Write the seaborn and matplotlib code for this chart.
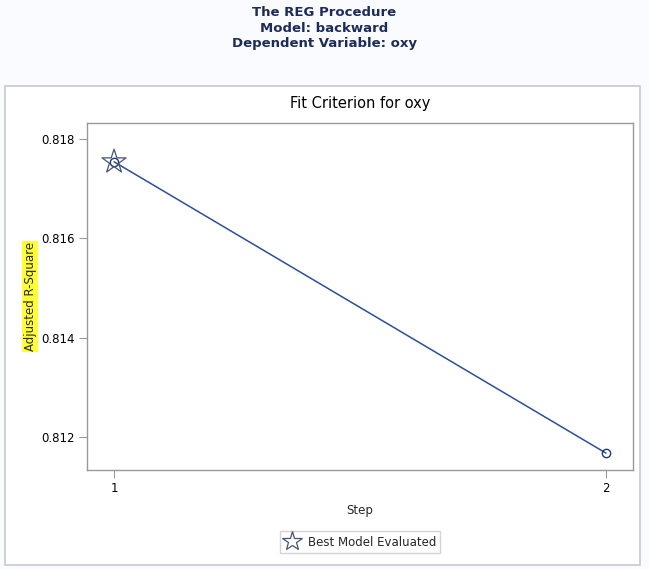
import numpy as np
import pandas as pd
import seaborn as sns
import matplotlib.pyplot as plt
from matplotlib.patches import Rectangle
from matplotlib.lines import Line2D

steps = [1, 2]
adj_rsq = [0.81754, 0.81168]
best_step = [1]
best_val = [0.81754]
y_ticks = [0.812, 0.814, 0.816, 0.818]

df = pd.DataFrame({"Step": steps, "AdjRSq": adj_rsq})
best_df = pd.DataFrame({"Step": best_step, "AdjRSq": best_val})

sns.set_theme(style="white")
plt.rcParams['font.family'] = ['DejaVu Sans']

W, H = 649, 569
fig = plt.figure(figsize=(W / 100, H / 100), dpi=100)
fig.patch.set_facecolor("#FAFBFE")

# white panel with grey border, behind the axes
fig.patches.append(Rectangle((5 / W, 1 - 565 / H), 635 / W, 479 / H,
                             transform=fig.transFigure, facecolor="white",
                             edgecolor="#C8C8D0", linewidth=1.2, zorder=-1))

navy = "#1C2B5A"
fig.text(0.5, 1 - 13 / H, "The REG Procedure", ha="center", va="center",
         fontsize=9.5, fontweight="bold", color=navy)
fig.text(0.5, 1 - 28 / H, "Model: backward", ha="center", va="center",
         fontsize=9.5, fontweight="bold", color=navy)
fig.text(0.5, 1 - 43 / H, "Dependent Variable: oxy", ha="center", va="center",
         fontsize=9.5, fontweight="bold", color=navy)

ax = fig.add_axes([87 / W, 1 - 470 / H, 546 / W, 347 / H])
ax.set_zorder(2)
ax.set_facecolor("white")

line_col = "#2B4F99"
sns.lineplot(data=df, x="Step", y="AdjRSq", ax=ax, color=line_col, linewidth=1.1,
             marker="o", markersize=6, markerfacecolor="none",
             markeredgecolor="#1F3A7A", markeredgewidth=1.0)
sns.scatterplot(data=best_df, x="Step", y="AdjRSq", ax=ax, marker="*", s=330,
                facecolor="none", edgecolor="#445577", linewidth=0.9, zorder=5)

ax.set_xlim(0.945, 2.055)
ax.set_ylim(0.81134, 0.81832)
ax.set_xticks(steps)
ax.set_xticklabels(["1", "2"])
ax.set_yticks(y_ticks)
ax.set_yticklabels([f"{t:.3f}" for t in y_ticks])
ax.tick_params(axis="both", labelsize=8.5, colors="black", length=6, width=0.8,
               color="#999999", bottom=True, left=True, pad=3)

for spine in ax.spines.values():
    spine.set_color("#999999")
    spine.set_linewidth(1.0)

ax.set_title("Fit Criterion for oxy", fontsize=10.5, color="black", pad=11)
ax.set_xlabel("Step", fontsize=8.5, labelpad=6)
ax.set_ylabel("Adjusted R-Square", fontsize=8.5, labelpad=3,
              bbox=dict(facecolor="#FFFF33", edgecolor="none", pad=1))

handle = Line2D([], [], linestyle="none", marker="*", markersize=15,
                markerfacecolor="none", markeredgecolor="#445577", markeredgewidth=0.9)
leg = fig.legend([handle], ["Best Model Evaluated"], loc="center",
                 bbox_to_anchor=(360 / W, 1 - 542 / H), fontsize=8.5, frameon=True,
                 fancybox=False, edgecolor="#C8C8D0", handletextpad=0.6,
                 borderpad=0.35, handlelength=1.4)
leg.set_zorder(3)

fig.savefig("out.png", dpi=100, facecolor=fig.get_facecolor())
plt.close()
